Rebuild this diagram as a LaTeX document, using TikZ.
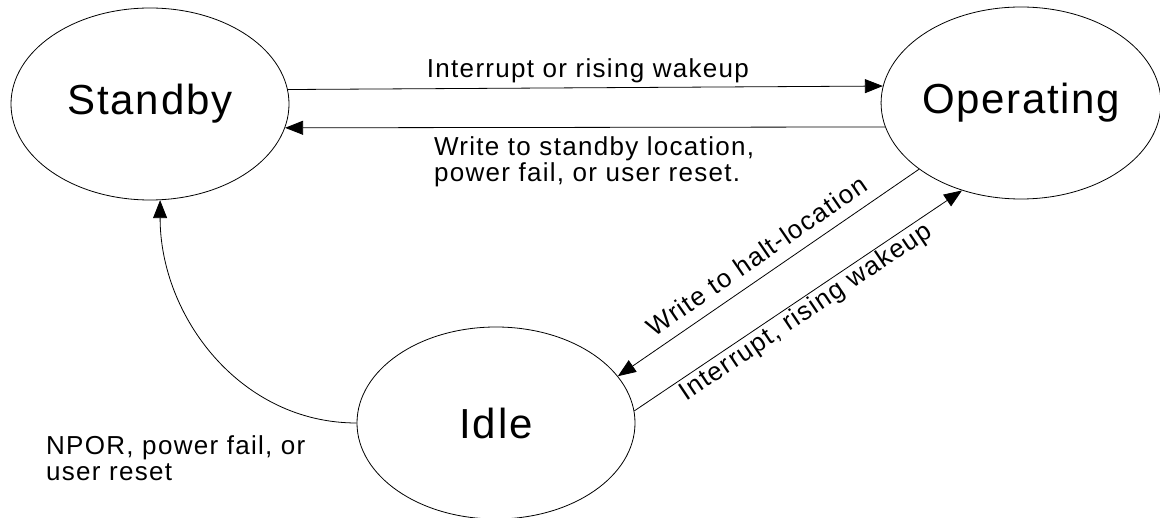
\documentclass[tikz,border=0pt]{standalone}
\usepackage{fontspec}
\usetikzlibrary{shapes.geometric,arrows.meta}
\newfontfamily\bigfont{Liberation Sans}[LetterSpace=4]
\newfontfamily\lblfont{Liberation Sans}[LetterSpace=5]
\begin{document}
\begin{tikzpicture}[x=1pt,y=1pt,
  state/.style={ellipse, draw, line width=0.8pt, minimum width=278pt, minimum height=192pt,
    inner sep=0pt, font=\bigfont\fontsize{42}{48}\selectfont},
  lbl/.style={font=\lblfont\fontsize{26}{26}\selectfont, inner sep=0pt},
  conn/.style={line width=0.8pt},
  arr/.style={conn, -{Triangle[length=18pt,width=14pt]}},
  rarr/.style={conn, {Triangle[length=18pt,width=14pt]}-}]
\useasboundingbox (0,0) rectangle (1160,-518);
\node[state] (standby) at (150,-104) {Standby};
\node[state] (operating) at (1021,-103) {Operating};
\node[state] (idle) at (496,-423) {Idle};

\draw[arr] (standby.6.66) -- (operating.173.76)
  node[lbl, midway, anchor=base, xshift=2.6pt, yshift=10pt] (l1) {Interrupt or rising wakeup};
\draw[rarr] (standby.350.33) -- (operating.190.12)
  node[lbl, midway, anchor=north, align=left, xshift=9pt, yshift=-9pt] (l2) {Write to standby location,\\power fail, or user reset.};

\draw[rarr] (idle.21.64) -- (operating.213.95)
  node[lbl, midway, sloped, anchor=south, inner ysep=11pt] (l3) {Write to halt-location};
\draw[arr] (idle.5.27) -- (operating.236.3)
  node[lbl, midway, sloped, anchor=north, inner ysep=2pt] (l4) {Interrupt, rising wakeup};

\draw[arr] (idle.180) to[out=180, in=-90] (standby.-84);
\node[lbl, anchor=north west, align=left] (npor) at (46,-435) {NPOR, power fail, or\\user reset};
\end{tikzpicture}
\end{document}
